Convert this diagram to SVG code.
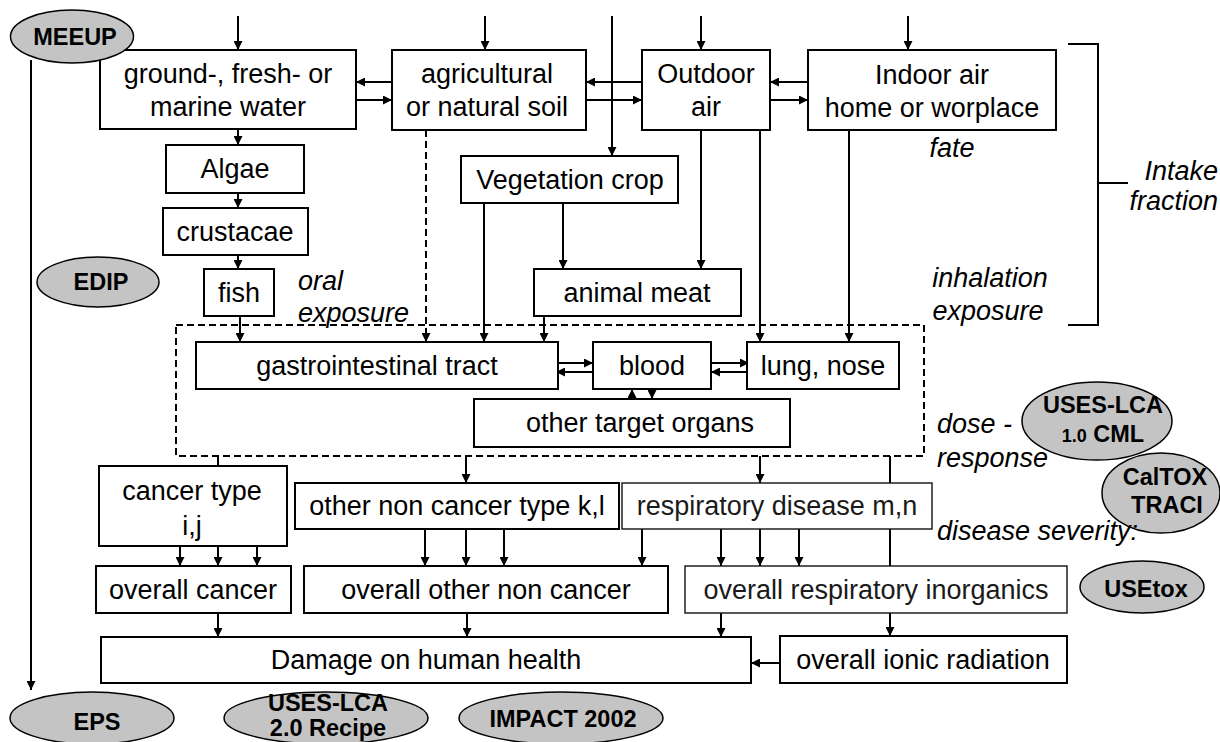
<svg xmlns="http://www.w3.org/2000/svg" width="1220" height="742" viewBox="0 0 1220 742">
<defs>
<marker id="ah" viewBox="0 0 10 10" refX="10" refY="5" markerWidth="9" markerHeight="9" markerUnits="userSpaceOnUse" orient="auto"><path d="M0,0 L10,5 L0,10 z" fill="#000"/></marker>
<style>
.box{fill:#fff;stroke:#000;stroke-width:2}
.lbox{fill:#fff;stroke:#111;stroke-width:1.4}
.t{font-family:"Liberation Sans",Arial,sans-serif;font-size:27px;fill:#000;text-anchor:middle}
.lt{font-family:"Liberation Sans",Arial,sans-serif;font-size:27px;fill:#1a1a1a;text-anchor:middle}
.it{font-family:"Liberation Sans",Arial,sans-serif;font-size:27px;font-style:italic;fill:#000}
.el{fill:#c4c4c4;stroke:#000;stroke-width:1.5}
.et{font-family:"Liberation Sans",Arial,sans-serif;font-size:23.5px;font-weight:bold;fill:#000;text-anchor:middle}
.c{fill:none;stroke:#000;stroke-width:2}
.ca{fill:none;stroke:#000;stroke-width:2;marker-end:url(#ah)}
.dash{fill:none;stroke:#000;stroke-width:2;stroke-dasharray:7,4}
</style>
</defs>
<rect width="1220" height="742" fill="#fff"/>

<g id="connectors">
<line class="ca" x1="238" y1="16" x2="238" y2="50"/>
<line class="ca" x1="485" y1="16" x2="485" y2="50"/>
<line class="ca" x1="612" y1="16" x2="612" y2="156"/>
<line class="ca" x1="701" y1="16" x2="701" y2="50"/>
<line class="ca" x1="908" y1="16" x2="908" y2="50"/>
<line class="ca" x1="392" y1="82" x2="356" y2="82"/>
<line class="ca" x1="356" y1="100" x2="392" y2="100"/>
<line class="ca" x1="642" y1="82" x2="586" y2="82"/>
<line class="ca" x1="586" y1="100" x2="642" y2="100"/>
<line class="ca" x1="808" y1="82" x2="770" y2="82"/>
<line class="ca" x1="770" y1="100" x2="808" y2="100"/>
<line class="ca" x1="238" y1="129" x2="238" y2="145"/>
<line class="ca" x1="238" y1="193" x2="238" y2="208"/>
<line class="ca" x1="238" y1="255" x2="238" y2="269"/>
<line class="ca" x1="240" y1="316" x2="240" y2="342"/>
<line class="dash" x1="426" y1="130" x2="426" y2="342" style="marker-end:url(#ah)"/>
<line class="ca" x1="484" y1="203" x2="484" y2="342"/>
<line class="ca" x1="563" y1="203" x2="563" y2="269"/>
<line class="ca" x1="701" y1="130" x2="701" y2="269"/>
<line class="ca" x1="544" y1="316" x2="544" y2="342"/>
<line class="ca" x1="760" y1="130" x2="760" y2="342"/>
<line class="ca" x1="849" y1="130" x2="849" y2="342"/>
<line class="ca" x1="555" y1="363" x2="593" y2="363"/>
<line class="ca" x1="593" y1="372" x2="556" y2="372"/>
<line class="ca" x1="711" y1="363" x2="749" y2="363"/>
<line class="ca" x1="749" y1="372" x2="711" y2="372"/>
<line class="ca" x1="632" y1="399" x2="632" y2="389"/>
<line class="ca" x1="652" y1="389" x2="652" y2="399"/>
<line class="ca" x1="218" y1="456" x2="218" y2="481"/>
<line class="ca" x1="466" y1="456" x2="466" y2="483"/>
<line class="ca" x1="760" y1="456" x2="760" y2="483"/>
<line class="ca" x1="890" y1="456" x2="890" y2="636"/>
<line class="ca" x1="180" y1="528" x2="180" y2="566"/>
<line class="ca" x1="218" y1="528" x2="218" y2="566"/>
<line class="ca" x1="257" y1="528" x2="257" y2="566"/>
<line class="ca" x1="425" y1="529" x2="425" y2="566"/>
<line class="ca" x1="466" y1="529" x2="466" y2="566"/>
<line class="ca" x1="504" y1="529" x2="504" y2="566"/>
<line class="ca" x1="642" y1="529" x2="642" y2="566"/>
<line class="ca" x1="721" y1="529" x2="721" y2="566"/>
<line class="ca" x1="760" y1="529" x2="760" y2="566"/>
<line class="ca" x1="799" y1="529" x2="799" y2="566"/>
<line class="ca" x1="218" y1="613" x2="218" y2="637"/>
<line class="ca" x1="467" y1="613" x2="467" y2="637"/>
<line class="ca" x1="721" y1="613" x2="721" y2="637"/>
<line class="ca" x1="780" y1="663" x2="751" y2="663"/>
<line class="ca" x1="31" y1="60" x2="31" y2="690"/>
</g>

<g id="dose-region"><rect class="dash" x="176" y="325" width="748" height="131"/></g>
<g id="bracket"><path class="c" d="M1068,44 H1098 V325 H1068 M1098,183 H1128"/></g>

<g id="water"><rect class="box" x="100" y="50" width="256" height="79"/><text class="t" x="228" y="83">ground-, fresh- or</text><text class="t" x="228" y="116">marine water</text></g>
<g id="soil"><rect class="box" x="392" y="50" width="194" height="80"/><text class="t" x="487" y="83">agricultural</text><text class="t" x="487" y="116">or natural soil</text></g>
<g id="outdoor"><rect class="box" x="642" y="50" width="128" height="80"/><text class="t" x="706" y="83">Outdoor</text><text class="t" x="706" y="116">air</text></g>
<g id="indoor"><rect class="box" x="808" y="50" width="248" height="80"/><text class="t" x="932" y="84">Indoor air</text><text class="t" x="932" y="117">home or worplace</text></g>
<g id="algae"><rect class="box" x="166" y="145" width="138" height="48"/><text class="t" x="235" y="178">Algae</text></g>
<g id="crustacae"><rect class="box" x="163" y="208" width="145" height="47"/><text class="t" x="235" y="241">crustacae</text></g>
<g id="fish"><rect class="box" x="204" y="269" width="70" height="47"/><text class="t" x="239" y="302">fish</text></g>
<g id="vegetation"><rect class="box" x="461" y="156" width="217" height="47"/><text class="t" x="570" y="189">Vegetation crop</text></g>
<g id="meat"><rect class="box" x="534" y="269" width="207" height="47"/><text class="t" x="637" y="302">animal meat</text></g>
<g id="gastro"><rect class="box" x="196" y="342" width="362" height="47"/><text class="t" x="377" y="375">gastrointestinal tract</text></g>
<g id="blood"><rect class="box" x="593" y="342" width="118" height="47"/><text class="t" x="652" y="375">blood</text></g>
<g id="lung"><rect class="box" x="747" y="342" width="152" height="47"/><text class="t" x="823" y="375">lung, nose</text></g>
<g id="organs"><rect class="box" x="474" y="399" width="316" height="48"/><text class="t" x="640" y="432">other target organs</text></g>
<g id="cancertype"><rect class="box" x="99" y="466" width="188" height="80"/><text class="t" x="192" y="500">cancer type</text><text class="t" x="192" y="535">i,j</text></g>
<g id="noncancertype"><rect class="box" x="295" y="483" width="324" height="46"/><text class="t" x="457" y="515">other non cancer type k,l</text></g>
<g id="respdisease"><rect class="lbox" x="622" y="483" width="310" height="46"/><text class="lt" x="777" y="515">respiratory disease m,n</text></g>
<g id="overallcancer"><rect class="box" x="96" y="566" width="195" height="47"/><text class="t" x="193" y="599">overall cancer</text></g>
<g id="overallnoncancer"><rect class="box" x="304" y="566" width="364" height="47"/><text class="t" x="486" y="599">overall other non cancer</text></g>
<g id="overallresp"><rect class="lbox" x="685" y="566" width="382" height="47"/><text class="lt" x="876" y="599">overall respiratory inorganics</text></g>
<g id="damage"><rect class="box" x="101" y="637" width="650" height="46"/><text class="t" x="426" y="669">Damage on human health</text></g>
<g id="ionic"><rect class="box" x="780" y="636" width="287" height="47"/><text class="t" x="923" y="669">overall ionic radiation</text></g>

<g id="meeup"><ellipse class="el" cx="72" cy="36.5" rx="61.5" ry="26.5"/><text class="et" x="75" y="45">MEEUP</text></g>
<g id="edip"><ellipse class="el" cx="98" cy="282" rx="61" ry="25"/><text class="et" x="101" y="290">EDIP</text></g>
<g id="eps"><ellipse class="el" cx="92" cy="718" rx="82" ry="26"/><text class="et" x="97" y="730">EPS</text></g>
<g id="useslca2"><ellipse class="el" cx="326" cy="718" rx="102" ry="26"/><text class="et" x="328" y="711">USES-LCA</text><text class="et" x="328" y="736">2.0 Recipe</text></g>
<g id="impact"><ellipse class="el" cx="561" cy="718" rx="102" ry="26"/><text class="et" x="563" y="727">IMPACT 2002</text></g>
<g id="useslca1"><ellipse class="el" cx="1097" cy="421" rx="75" ry="39"/><text class="et" x="1103" y="413">USES-LCA</text><text class="et" x="1103" y="442"><tspan font-size="18">1.0</tspan> CML</text></g>
<g id="caltox"><ellipse class="el" cx="1161" cy="493" rx="59" ry="40"/><text class="et" x="1165" y="485">CalTOX</text><text class="et" x="1167" y="513">TRACI</text></g>
<g id="usetox"><ellipse class="el" cx="1142" cy="587" rx="62" ry="26"/><text class="et" x="1146" y="597">USEtox</text></g>

<g id="labels">
<text class="it" x="952" y="157" text-anchor="middle">fate</text>
<text class="it" x="298" y="290">oral</text>
<text class="it" x="298" y="322">exposure</text>
<text class="it" x="990" y="287" text-anchor="middle">inhalation</text>
<text class="it" x="988" y="320" text-anchor="middle">exposure</text>
<text class="it" x="1218" y="180" text-anchor="end">Intake</text>
<text class="it" x="1218" y="210" text-anchor="end">fraction</text>
<text class="it" x="937" y="433">dose -</text>
<text class="it" x="937" y="467">response</text>
<text class="it" x="937" y="540">disease severity:</text>
</g>
</svg>
